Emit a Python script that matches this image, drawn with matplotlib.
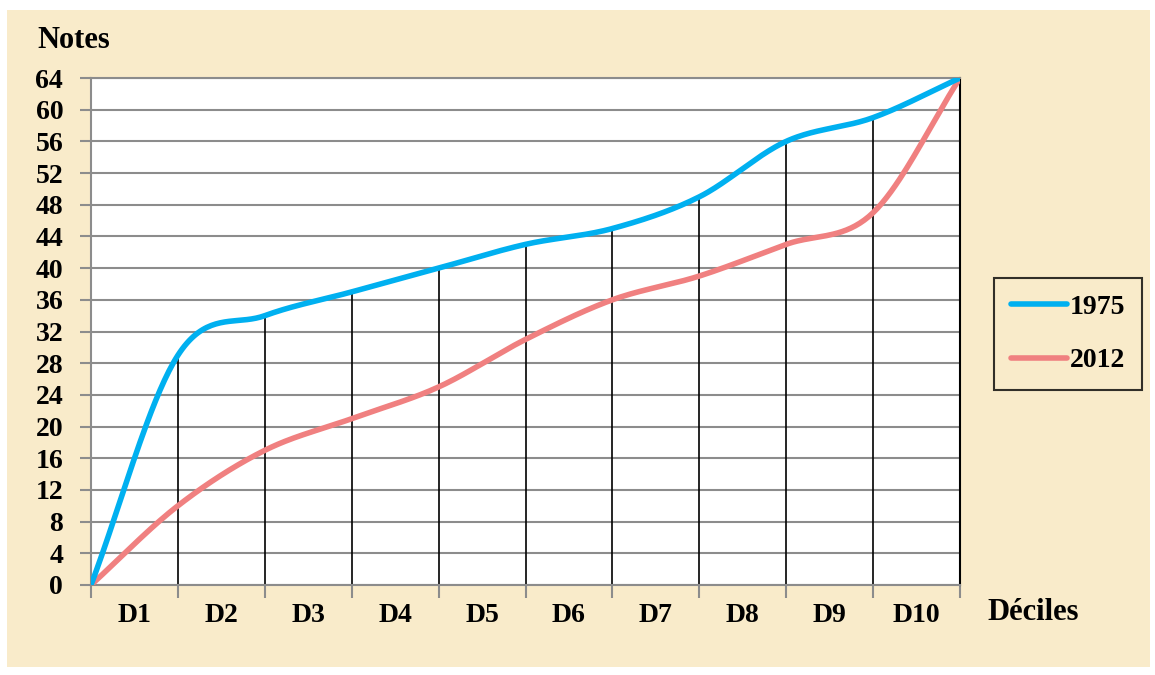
import numpy as np
import matplotlib.pyplot as plt
from matplotlib.patches import Rectangle

deciles = ['D1', 'D2', 'D3', 'D4', 'D5', 'D6', 'D7', 'D8', 'D9', 'D10']
positions = list(range(11))
notes_1975 = [0, 29, 34, 37, 40, 43, 45, 49, 56, 59, 64]
notes_2012 = [0, 10, 17, 21, 25, 31, 36, 39, 43, 47, 64]
yticks = list(range(0, 65, 4))


def smooth(x, y, n=40):
    # Catmull-Rom curve through the points (like Excel's smoothed line)
    x = np.asarray(x, float)
    y = np.asarray(y, float)
    px = np.concatenate([[2 * x[0] - x[1]], x, [2 * x[-1] - x[-2]]])
    py = np.concatenate([[2 * y[0] - y[1]], y, [2 * y[-1] - y[-2]]])
    xs, ys = [], []
    t = np.linspace(0, 1, n)
    for i in range(1, len(px) - 2):
        for p, out in ((px, xs), (py, ys)):
            p0, p1, p2, p3 = p[i - 1], p[i], p[i + 1], p[i + 2]
            out.extend(0.5 * (2 * p1 + (-p0 + p2) * t
                              + (2 * p0 - 5 * p1 + 4 * p2 - p3) * t ** 2
                              + (-p0 + 3 * p1 - 3 * p2 + p3) * t ** 3))
    return np.array(xs), np.array(ys)


plt.rcParams['font.family'] = ['Liberation Serif', 'DejaVu Serif']
plt.rcParams['font.weight'] = 'bold'
fs_num = 20
fs_word = 22

fig = plt.figure(figsize=(11.55, 6.75), dpi=100, facecolor='white')
fig.patches.append(Rectangle((7 / 1155, 8 / 675), 1143 / 1155, 657 / 675,
                             transform=fig.transFigure, facecolor='#f9ebca',
                             edgecolor='none', zorder=-10))

ax = fig.add_axes([91 / 1155, 1 - 585 / 675, 869 / 1155, 507 / 675])
ax.set_zorder(2)
ax.set_facecolor('white')
ax.set_xlim(0, 10)
ax.set_ylim(0, 64)
ax.set_yticks(yticks)
ax.set_yticklabels([str(v) for v in yticks], fontsize=fs_num, fontweight='bold')
ax.set_xticks(positions)
ax.set_xticklabels([])
ax.set_xticks([p + 0.5 for p in positions[:-1]], minor=True)
ax.set_xticklabels(deciles, minor=True, fontsize=fs_num, fontweight='bold')
ax.tick_params(axis='x', which='minor', length=0, pad=13)
ax.tick_params(axis='x', which='major', length=9, color='#8c8c8c', width=1.5)
ax.tick_params(axis='y', length=8, color='#8c8c8c', width=1.5, pad=12)
ax.grid(axis='y', color='#8c8c8c', lw=1.5)
ax.set_axisbelow(True)
for side in ('left', 'bottom', 'top'):
    ax.spines[side].set_color('#8c8c8c')
    ax.spines[side].set_linewidth(1.5)
ax.spines['right'].set_color('black')
ax.spines['right'].set_linewidth(1.5)

ax.vlines(positions[1:-1], 0, notes_1975[1:-1], color='black', lw=1.2, zorder=2)

sx, sy = smooth(positions, notes_2012)
ax.plot(sx, sy, color='#f08080', lw=4, solid_capstyle='round', label='2012', zorder=3)
sx, sy = smooth(positions, notes_1975)
ax.plot(sx, sy, color='#00b0f0', lw=4, solid_capstyle='round', label='1975', zorder=4)

handles, labels = ax.get_legend_handles_labels()
leg = fig.legend(handles[::-1], labels[::-1], loc='center',
                 bbox_to_anchor=(1068 / 1155, 1 - 334 / 675),
                 fontsize=fs_num, frameon=True, fancybox=False, edgecolor='black',
                 facecolor='none', handlelength=2.0, handletextpad=0.1,
                 labelspacing=1.0, borderpad=0.6, borderaxespad=0)
leg.get_frame().set_linewidth(1.5)
for t in leg.get_texts():
    t.set_fontweight('bold')

fig.text(37 / 1155, 1 - 40 / 675, 'Notes', fontsize=fs_word, fontweight='bold', va='center')
fig.text(987 / 1155, 1 - 613 / 675, 'Déciles', fontsize=fs_word, fontweight='bold', va='center')

fig.savefig('out.png', dpi=100, facecolor=fig.get_facecolor())
